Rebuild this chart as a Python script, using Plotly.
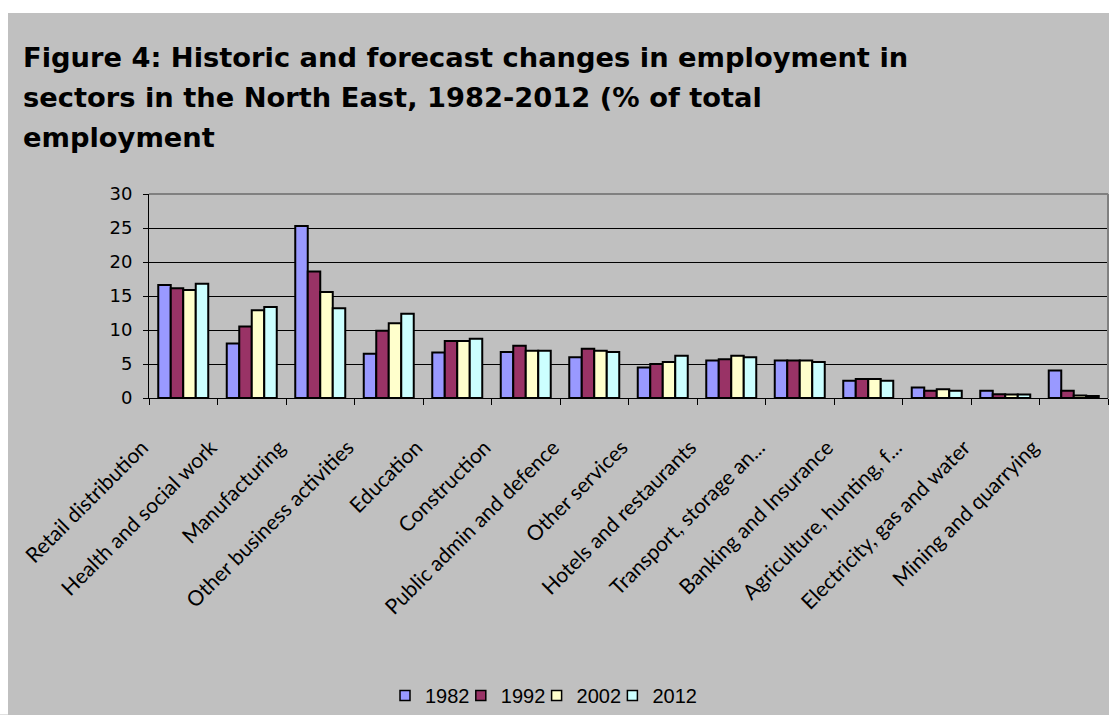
import plotly.graph_objects as go

# Sector employment shares (% of total employment), North East
sectors = [
    "Retail distribution", "Health and social work", "Manufacturing",
    "Other business activities", "Education", "Construction",
    "Public admin and defence", "Other services", "Hotels and restaurants",
    "Transport, storage an...", "Banking and Insurance",
    "Agriculture, hunting, f...", "Electricity, gas and water",
    "Mining and quarrying",
]
years = ["1982", "1992", "2002", "2012"]
v1982 = [16.6, 8.0, 25.3, 6.5, 6.7, 6.75, 6.0, 4.5, 5.5, 5.5, 2.55, 1.55, 1.05, 4.05]
v1992 = [16.15, 10.5, 18.6, 9.9, 8.4, 7.7, 7.25, 5.0, 5.7, 5.5, 2.8, 1.05, 0.55, 1.05]
v2002 = [15.9, 12.9, 15.6, 11.0, 8.4, 6.95, 6.95, 5.3, 6.2, 5.5, 2.8, 1.3, 0.5, 0.35]
v2012 = [16.8, 13.4, 13.2, 12.4, 8.7, 6.95, 6.75, 6.2, 6.0, 5.3, 2.55, 1.05, 0.5, 0.3]
series = [v1982, v1992, v2002, v2012]
colors = ["#9999FF", "#993366", "#FFFFCC", "#CCFFFF"]
y_ticks = [0, 5, 10, 15, 20, 25, 30]
title_lines = [
    "Figure 4: Historic and forecast changes in employment in",
    "sectors in the North East, 1982-2012 (% of total",
    "employment",
]

W, H = 1109, 715
L, R, T, B = 149, 1, 194, 316
PW, PH = W - L - R, H - T - B


def px_x(p):
    return (p - L) / PW


def px_y(q):
    return (H - B - q) / PH


fig = go.Figure()
for name, vals, col in zip(years, series, colors):
    fig.add_trace(go.Bar(
        x=sectors, y=vals, name=name, showlegend=False,
        marker=dict(color=col, line=dict(color="black", width=2)),
    ))

# one single-entry legend per year so the keys sit close together
legend_layouts = {}
for i, (name, col) in enumerate(zip(years, colors)):
    key = "legend" if i == 0 else f"legend{i + 1}"
    fig.add_trace(go.Scatter(
        x=[None], y=[None], name=name, mode="markers", legend=key,
        marker=dict(symbol="square", size=10, color=col,
                    line=dict(color="black", width=1.5)),
    ))
    legend_layouts[key] = dict(
        orientation="h", x=px_x(385 + 75.8 * i), y=px_y(697),
        xanchor="left", yanchor="middle",
        font=dict(family="Liberation Sans", size=20, color="black"),
        bgcolor="rgba(0,0,0,0)", itemwidth=30,
    )

shapes = [
    # white strips along the top and left edges of the page
    dict(type="rect", xref="paper", yref="paper", layer="above",
         x0=px_x(-2), x1=px_x(8), y0=px_y(H + 2), y1=px_y(-2),
         fillcolor="white", line=dict(width=0)),
    dict(type="rect", xref="paper", yref="paper", layer="above",
         x0=px_x(-2), x1=px_x(W + 2), y0=px_y(12), y1=px_y(-2),
         fillcolor="white", line=dict(width=0)),
    # plot area frame (top and right)
    dict(type="line", xref="paper", yref="paper", layer="above",
         x0=0, x1=1, y0=1, y1=1, line=dict(color="#808080", width=2)),
    dict(type="line", xref="paper", yref="paper", layer="above",
         x0=1, x1=1, y0=0, y1=1, line=dict(color="#808080", width=2)),
]

annotations = []
for i, line in enumerate(title_lines):
    annotations.append(dict(
        text=line, xref="paper", yref="paper",
        x=px_x(21), y=px_y(57 + 40 * i), xanchor="left", yanchor="middle",
        showarrow=False,
        font=dict(family="DejaVu Sans", size=27.3, color="black", weight="bold"),
    ))

fig.update_layout(
    width=W, height=H,
    margin=dict(l=L, r=R, t=T, b=B, pad=0),
    paper_bgcolor="#C0C0C0", plot_bgcolor="#C0C0C0",
    barmode="group", bargap=0.27, bargroupgap=0,
    shapes=shapes, annotations=annotations,
    showlegend=True,
    xaxis=dict(
        type="category", tickangle=-45, tickson="boundaries",
        ticks="outside", ticklen=6, tickcolor="black",
        showline=True, linecolor="black", linewidth=1,
        showgrid=False, ticklabelshift=-41, ticklabelstandoff=28,
        tickfont=dict(family="Lato", size=21, color="black"),
    ),
    yaxis=dict(
        range=[0, 30], tickvals=y_ticks, ticks="outside", ticklen=5,
        tickcolor="black", showline=True, linecolor="black", linewidth=1,
        gridcolor="black", gridwidth=1, zeroline=False, ticklabelstandoff=7,
        tickfont=dict(family="DejaVu Sans", size=18, color="black"),
    ),
    **legend_layouts,
)

fig.write_html("out.html")
